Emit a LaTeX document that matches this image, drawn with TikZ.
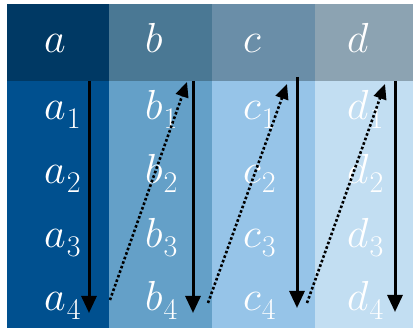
\RequirePackage{fix-cm}
\documentclass[tikz,border=0pt]{standalone}
\usetikzlibrary{arrows.meta}
\definecolor{hA}{RGB}{0,57,100}
\definecolor{hB}{RGB}{74,120,148}
\definecolor{hC}{RGB}{106,142,168}
\definecolor{hD}{RGB}{140,163,178}
\definecolor{bA}{RGB}{0,80,143}
\definecolor{bB}{RGB}{100,160,200}
\definecolor{bC}{RGB}{150,196,232}
\definecolor{bD}{RGB}{194,222,242}
\newcommand{\withsub}[2]{$#1$\kern1pt\raisebox{-9pt}{\fontsize{30}{30}\selectfont #2}}
\begin{document}
\begin{tikzpicture}[x=1pt,y=-1pt,
  lab/.style={text=white, inner sep=0pt, anchor=base west, font=\fontsize{42}{44}\selectfont},
  downarr/.style={line width=3pt, -{Triangle[width=15pt,length=17pt]}},
  diagarr/.style={line width=2.6pt, dash pattern=on 2.6pt off 2.2pt, -{Triangle[width=13pt,length=15pt]}}]
\useasboundingbox (0,0) rectangle (413,328);
% headers
\fill[hA] (7,4) rectangle (109,81);
\fill[hB] (109,4) rectangle (212,81);
\fill[hC] (212,4) rectangle (315,81);
\fill[hD] (315,4) rectangle (413,81);
% bodies
\fill[bA] (7,81) rectangle (109,328);
\fill[bB] (109,81) rectangle (212,328);
\fill[bC] (212,81) rectangle (315,328);
\fill[bD] (315,81) rectangle (413,328);
% labels
\node[lab] (a) at (44,53) {$a$};
\node[lab] (b) at (145,53) {$b$};
\node[lab] (c) at (243,53) {$c$};
\node[lab] (d) at (347,53) {$d$};
\foreach \r/\yy in {1/120,2/184,3/248,4/311}{
  \node[lab] (a\r) at (44,\yy) {\withsub{a}{\r}};
  \node[lab] (b\r) at (145,\yy) {\withsub{b}{\r}};
  \node[lab] (c\r) at (243,\yy) {\withsub{c}{\r}};
  \node[lab] (d\r) at (347,\yy) {\withsub{d}{\r}};
}
% arrow end points
\coordinate (sa) at (89,81);  \coordinate (ea) at (89,313);
\coordinate (sb) at (193,81); \coordinate (eb) at (193,313);
\coordinate (sc) at (297,77); \coordinate (ec) at (297,308);
\coordinate (sd) at (395,81); \coordinate (ed) at (395,312);
\coordinate (pa) at (110,300); \coordinate (qb) at (187,82);
\coordinate (pb) at (208,303); \coordinate (qc) at (287,84);
\coordinate (pc) at (307,303); \coordinate (qd) at (385,84);
\draw[downarr] (sa) -- (ea);
\draw[downarr] (sb) -- (eb);
\draw[downarr] (sc) -- (ec);
\draw[downarr] (sd) -- (ed);
\draw[diagarr] (pa) -- (qb);
\draw[diagarr] (pb) -- (qc);
\draw[diagarr] (pc) -- (qd);
\end{tikzpicture}
\end{document}
